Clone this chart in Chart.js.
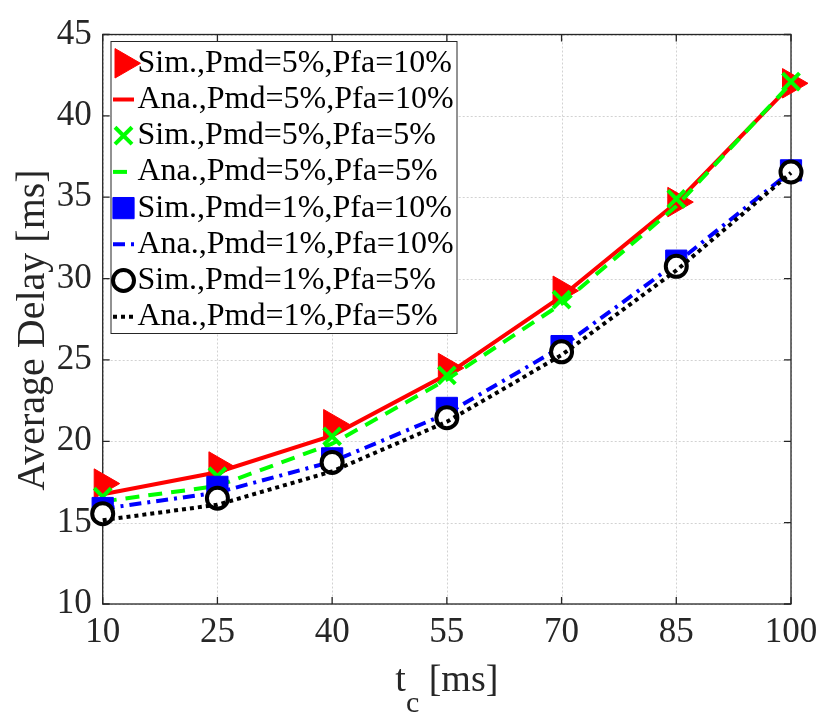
<!DOCTYPE html>
<html>
<head>
<meta charset="utf-8">
<script src="https://cdn.jsdelivr.net/npm/chart.js@4.4.1/dist/chart.umd.min.js"></script>
<style>
  body { margin: 0; background: #fff; }
  #wrap { width: 830px; height: 723px; }
</style>
</head>
<body>
<div id="wrap"><canvas id="delayChart"></canvas></div>
<script>
// values
const tc = [10, 25, 40, 55, 70, 85, 100];
const xTicks = [10, 25, 40, 55, 70, 85, 100];
const yTicks = [10, 15, 20, 25, 30, 35, 40, 45];

// Pmd=5%, Pfa=10%
const sim5_10 = [17.4, 18.45, 21.05, 24.5, 29.25, 34.7, 42.0];
const ana5_10 = [16.75, 18.1, 20.35, 24.1, 28.9, 34.65, 41.9];
// Pmd=5%, Pfa=5%
const sim5_5 = [16.6, 17.85, 20.3, 24.05, 28.7, 34.9, 42.1];
const ana5_5 = [16.3, 17.25, 19.85, 23.8, 28.45, 34.45, 42.0];
// Pmd=1%, Pfa=10%
const sim1_10 = [15.9, 17.2, 18.95, 22.05, 25.85, 31.1, 36.65];
const ana1_10 = [15.85, 16.85, 18.75, 21.7, 25.8, 30.95, 36.6];
// Pmd=1%, Pfa=5%
const sim1_5 = [15.55, 16.5, 18.7, 21.45, 25.5, 30.75, 36.55];
const ana1_5 = [15.15, 16.1, 18.15, 21.2, 25.3, 30.5, 36.5];

const serif = "'Liberation Serif', 'Times New Roman', serif";
const axisColor = '#262626';

function pts(arr) {
    return arr.map((v, i) => ({x: tc[i], y: v}));
}

// simulated points: markers only
function simSet(label, data, color, style, radius, extra) {
    return Object.assign({
        label: label,
        data: pts(data),
        showLine: false,
        pointStyle: style,
        pointRadius: radius,
        pointHoverRadius: radius,
        pointBackgroundColor: color,
        pointBorderColor: color,
        pointBorderWidth: 1,
        borderColor: color,
        backgroundColor: color,
        clip: false
    }, extra || {});
}
// analytical curves: lines only
function anaSet(label, data, color, dash) {
    return {
        label: label,
        data: pts(data),
        borderColor: color,
        backgroundColor: color,
        borderWidth: 4,
        borderDash: dash,
        pointRadius: 0,
        tension: 0,
        fill: false,
        clip: false
    };
}

const datasets = [
    simSet('Sim.,Pmd=5%,Pfa=10%', sim5_10, '#ff0000', 'triangle', 17, {pointRotation: 90}),
    anaSet('Ana.,Pmd=5%,Pfa=10%', ana5_10, '#ff0000', []),
    simSet('Sim.,Pmd=5%,Pfa=5%', sim5_5, '#00ff00', 'crossRot', 12, {pointBorderWidth: 4}),
    anaSet('Ana.,Pmd=5%,Pfa=5%', ana5_5, '#00ff00', [14, 9]),
    simSet('Sim.,Pmd=1%,Pfa=10%', sim1_10, '#0000ff', 'rect', 15),
    anaSet('Ana.,Pmd=1%,Pfa=10%', ana1_10, '#0000ff', [12, 6, 3, 6]),
    simSet('Sim.,Pmd=1%,Pfa=5%', sim1_5, '#000000', 'circle', 10.5, {pointBackgroundColor: '#ffffff', pointBorderWidth: 4}),
    anaSet('Ana.,Pmd=1%,Pfa=5%', ana1_5, '#000000', [4, 4])
];
// later series drawn on top, like the original plot
datasets.forEach((d, i) => { d.order = datasets.length - i; });

// grid, box and inward ticks
const framePlugin = {
    id: 'frame',
    beforeDatasetsDraw(chart) {
        const {ctx, chartArea: a, scales: {x, y}} = chart;
        ctx.save();
        ctx.strokeStyle = '#d2d2d2';
        ctx.lineWidth = 1;
        ctx.setLineDash([2, 2]);
        ctx.beginPath();
        xTicks.forEach(v => {
            const px = Math.round(x.getPixelForValue(v)) + 0.5;
            ctx.moveTo(px, a.top); ctx.lineTo(px, a.bottom);
        });
        yTicks.forEach(v => {
            const py = Math.round(y.getPixelForValue(v)) + 0.5;
            ctx.moveTo(a.left, py); ctx.lineTo(a.right, py);
        });
        ctx.stroke();
        ctx.setLineDash([]);

        ctx.strokeStyle = axisColor;
        ctx.lineWidth = 1.3;
        ctx.strokeRect(a.left, a.top, a.right - a.left, a.bottom - a.top);
        ctx.beginPath();
        xTicks.forEach(v => {
            const px = x.getPixelForValue(v);
            ctx.moveTo(px, a.bottom); ctx.lineTo(px, a.bottom - 7);
            ctx.moveTo(px, a.top); ctx.lineTo(px, a.top + 7);
        });
        yTicks.forEach(v => {
            const py = y.getPixelForValue(v);
            ctx.moveTo(a.left, py); ctx.lineTo(a.left + 7, py);
            ctx.moveTo(a.right, py); ctx.lineTo(a.right - 7, py);
        });
        ctx.stroke();
        ctx.restore();
    },
    afterDraw(chart) {
        const {ctx, chartArea: a} = chart;
        ctx.save();
        ctx.fillStyle = axisColor;
        // x label with subscript
        const big = '38px ' + serif;
        const small = '30px ' + serif;
        ctx.font = big;
        const wT = ctx.measureText('t').width;
        const wR = ctx.measureText(' [ms]').width;
        ctx.font = small;
        const wC = ctx.measureText('c').width;
        const x0 = (a.left + a.right) / 2 - (wT + wC + wR) / 2;
        const base = a.bottom + 87;
        ctx.textAlign = 'left';
        ctx.textBaseline = 'alphabetic';
        ctx.font = big;
        ctx.fillText('t', x0, base);
        ctx.font = small;
        ctx.fillText('c', x0 + wT, base + 21);
        ctx.font = big;
        ctx.fillText(' [ms]', x0 + wT + wC, base);

        // y label
        ctx.translate(33.5, 330);
        ctx.rotate(-Math.PI / 2);
        ctx.font = '40px ' + serif;
        ctx.textAlign = 'center';
        ctx.textBaseline = 'middle';
        ctx.fillText('Average Delay [ms]', 0, 0);
        ctx.restore();
    }
};

// legend box in the upper left corner
const legendPlugin = {
    id: 'boxLegend',
    afterDraw(chart) {
        const ctx = chart.ctx;
        const box = {left: 111, top: 41.5, right: 457, bottom: 333.5};
        ctx.save();
        ctx.fillStyle = '#ffffff';
        ctx.fillRect(box.left, box.top, box.right - box.left, box.bottom - box.top);
        ctx.strokeStyle = axisColor;
        ctx.lineWidth = 1;
        ctx.strokeRect(box.left, box.top, box.right - box.left, box.bottom - box.top);

        chart.data.datasets.forEach((ds, i) => {
            const cy = box.top + 21.8 + i * 36.2;
            if (ds.showLine === false) {
                ctx.fillStyle = ds.pointBackgroundColor;
                ctx.strokeStyle = ds.pointBorderColor;
                ctx.lineWidth = ds.pointBorderWidth;
                Chart.helpers.drawPoint(ctx, {
                    pointStyle: ds.pointStyle,
                    rotation: ds.pointRotation || 0,
                    radius: ds.pointRadius,
                    borderWidth: ds.pointBorderWidth
                }, 123.5, cy);
            } else {
                ctx.strokeStyle = ds.borderColor;
                ctx.lineWidth = ds.borderWidth;
                ctx.setLineDash(ds.borderDash);
                ctx.beginPath();
                ctx.moveTo(113, cy);
                ctx.lineTo(134, cy);
                ctx.stroke();
                ctx.setLineDash([]);
            }
            ctx.fillStyle = '#000000';
            ctx.font = '32px ' + serif;
            ctx.textAlign = 'left';
            ctx.textBaseline = 'middle';
            ctx.fillText(ds.label, 137.5, cy);
        });
        ctx.restore();
    }
};

new Chart(document.getElementById('delayChart').getContext('2d'), {
    type: 'line',
    data: { datasets: datasets },
    options: {
        responsive: true,
        maintainAspectRatio: false,
        animation: false,
        events: [],
        layout: { padding: { top: 34.5, right: 39, left: 0, bottom: 0 } },
        plugins: {
            legend: { display: false },
            tooltip: { enabled: false }
        },
        scales: {
            x: {
                type: 'linear',
                min: 10,
                max: 100,
                afterBuildTicks: s => { s.ticks = xTicks.map(v => ({value: v})); },
                afterFit: s => { s.height = 119; },
                grid: { display: false, drawTicks: false },
                border: { display: false },
                ticks: {
                    font: { family: serif, size: 35 },
                    color: axisColor,
                    padding: 8,
                    maxRotation: 0,
                    autoSkip: false
                }
            },
            y: {
                type: 'linear',
                min: 10,
                max: 45,
                afterBuildTicks: s => { s.ticks = yTicks.map(v => ({value: v})); },
                afterFit: s => { s.width = 102.7; },
                grid: { display: false, drawTicks: false },
                border: { display: false },
                ticks: {
                    font: { family: serif, size: 35 },
                    color: axisColor,
                    padding: 11,
                    autoSkip: false
                }
            }
        }
    },
    plugins: [framePlugin, legendPlugin]
});
</script>
</body>
</html>
